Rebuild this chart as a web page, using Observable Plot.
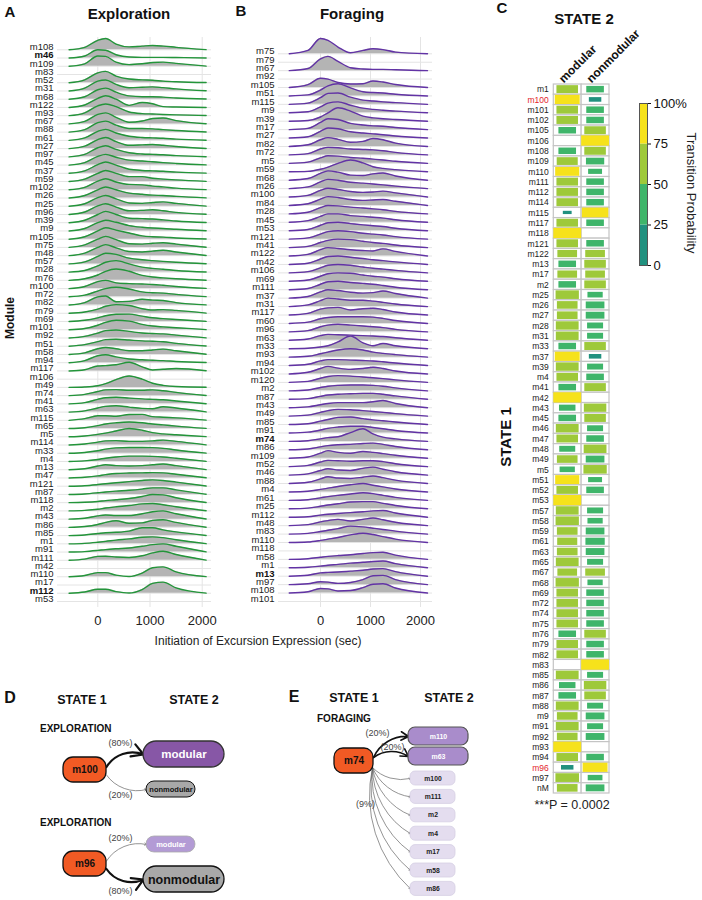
<!DOCTYPE html>
<html><head><meta charset="utf-8">
<script src="https://cdn.jsdelivr.net/npm/d3@7"></script>
<script src="https://cdn.jsdelivr.net/npm/@observablehq/plot@0.6"></script>
<style>
body{margin:0;background:#fff;font-family:"Liberation Sans",Arial,Helvetica,sans-serif;}
#root{position:relative;width:702px;height:900px;overflow:hidden;background:#fff;}
</style></head><body><div id="root"></div>
<script>
// ---------- DATA ----------
const ticksX = [0, 1000, 2000];
const xsA = [-550,-250,0,150,350,600,850,1050,1250,1500,2075];
const xsB = [-625,-250,0,150,350,600,850,1050,1250,1500,2140];

const rowsA = ["m108","m46","m109","m83","m52","m31","m68","m122","m93","m67","m88","m61","m27","m97","m45","m37","m59","m102","m26","m25","m96","m39","m9","m105","m75","m48","m57","m28","m76","m100","m72","m82","m79","m69","m101","m92","m51","m58","m94","m117","m106","m49","m74","m41","m63","m115","m65","m5","m114","m33","m4","m13","m47","m121","m87","m118","m2","m43","m86","m85","m1","m91","m111","m42","m110","m17","m112","m53"];
const boldA = ["m46","m112"];
const ridgeA = [
[0,0.3,1.15,1.38,0.7,0.35,0.45,0.52,0.45,0.3,0.02],
[0,0.25,1.0,0.95,0.4,0.12,0.08,0.08,0.08,0.06,0],
[0,0.3,1.25,1.2,0.5,0.2,0.3,0.45,0.5,0.35,0.02],
null,
[0,0.35,1.2,1.38,0.8,0.45,0.35,0.3,0.2,0.12,0.02],
[0,0.35,1.2,1.34,0.8,0.4,0.45,0.5,0.4,0.25,0.02],
[0,0.3,1.15,1.34,0.85,0.4,0.3,0.3,0.25,0.15,0.02],
[0,0.3,1.1,1.42,1.0,0.25,0.6,0.45,0.1,0.05,0],
[0,0.35,1.2,1.42,1.1,0.45,0.25,0.2,0.15,0.1,0.02],
[0,0.3,1.15,1.34,0.8,0.2,0.35,0.65,0.72,0.4,0.02],
[0,0.3,1.15,1.34,0.85,0.45,0.45,0.4,0.3,0.2,0.02],
[0,0.3,1.1,1.34,0.9,0.5,0.35,0.3,0.25,0.15,0.02],
[0,0.3,1.1,1.34,0.85,0.4,0.45,0.5,0.4,0.25,0.02],
[0,0.3,1.1,1.34,0.9,0.5,0.35,0.3,0.25,0.15,0.02],
[0,0.3,1.05,1.3,0.95,0.6,0.5,0.4,0.3,0.2,0.02],
[0,0.3,1.05,1.38,1.0,0.5,0.35,0.3,0.25,0.15,0.02],
[0,0.3,1.0,1.34,1.0,0.6,0.6,0.4,0.3,0.2,0.02],
[0,0.3,1.05,1.34,0.95,0.65,0.6,0.45,0.35,0.2,0.02],
[0,0.3,1.0,1.34,1.0,0.6,0.45,0.35,0.3,0.2,0.02],
[0,0.3,1.05,1.3,0.9,0.4,0.35,0.45,0.53,0.35,0.02],
[0,0.3,1.05,1.3,0.9,0.45,0.5,0.57,0.45,0.25,0.02],
[0,0.3,1.0,1.38,1.0,0.55,0.5,0.45,0.35,0.2,0.02],
[0,0.3,1.0,1.3,1.05,0.65,0.45,0.35,0.3,0.2,0.02],
[0,0.3,1.0,1.38,1.1,0.75,0.4,0.3,0.25,0.15,0.02],
[0,0.3,1.0,1.34,0.95,0.45,0.4,0.5,0.57,0.4,0.02],
[0,0.3,1.0,1.34,0.95,0.5,0.45,0.55,0.65,0.45,0.02],
[0,0.25,0.9,1.3,1.15,0.7,0.5,0.4,0.3,0.2,0.02],
[0,0.2,0.75,1.2,1.4,1.0,0.6,0.45,0.35,0.2,0.02],
[0,0.2,0.65,1.1,1.38,1.1,0.6,0.4,0.3,0.2,0.02],
[0,0.25,0.85,1.0,0.7,0.6,0.55,0.5,0.4,0.25,0.02],
[0,0.2,0.7,1.0,1.17,0.95,0.6,0.5,0.45,0.3,0.02],
[0,0.3,1.0,1.1,0.4,0.45,0.7,0.6,0.55,0.3,0.02],
[0,0.15,0.5,0.85,1.05,0.95,0.55,0.4,0.45,0.35,0.02],
[0,0.15,0.45,0.7,0.88,0.9,0.65,0.45,0.35,0.25,0.02],
[0,0.15,0.55,0.9,1.15,1.05,0.65,0.45,0.35,0.25,0.02],
[0,0.2,0.6,0.9,0.97,0.8,0.6,0.55,0.5,0.35,0.02],
[0,0.2,0.55,0.8,0.85,0.75,0.65,0.6,0.55,0.35,0.02],
[0,0.2,0.7,0.85,0.7,0.45,0.45,0.55,0.65,0.45,0.02],
[0,0.25,0.85,0.97,0.7,0.45,0.35,0.3,0.25,0.15,0.02],
[0,0.15,0.6,0.65,0.75,1.05,0.5,0.12,0.2,0.3,0.02],
null,
[0,0.05,0.2,0.45,0.95,1.38,1.0,0.5,0.25,0.1,0.01],
[0,0.15,0.5,0.7,0.73,0.65,0.65,0.7,0.6,0.4,0.02],
[0,0.15,0.55,0.75,0.8,0.7,0.6,0.55,0.5,0.35,0.02],
[0,0.15,0.5,0.7,0.77,0.6,0.45,0.4,0.65,0.5,0.02],
[0,0.2,0.55,0.55,0.5,0.7,0.72,0.45,0.38,0.3,0.02],
[0,0.1,0.35,0.55,0.7,0.8,0.7,0.55,0.45,0.3,0.02],
[0,0.1,0.3,0.45,0.7,1.0,0.8,0.5,0.35,0.25,0.02],
[0,0.12,0.35,0.5,0.53,0.45,0.45,0.5,0.6,0.45,0.02],
[0,0.1,0.3,0.5,0.65,0.7,0.7,0.68,0.6,0.4,0.02],
[0,0.08,0.25,0.4,0.55,0.65,0.65,0.62,0.55,0.4,0.02],
[0,0.12,0.45,0.6,0.5,0.45,0.5,0.6,0.7,0.5,0.02],
[0,0.08,0.25,0.4,0.55,0.6,0.62,0.65,0.62,0.45,0.02],
[0,0.06,0.2,0.3,0.42,0.55,0.7,0.77,0.7,0.5,0.02],
[0,0.06,0.2,0.3,0.4,0.5,0.65,0.8,0.8,0.55,0.02],
[0,0.05,0.15,0.25,0.35,0.5,0.75,1.0,0.95,0.6,0.02],
[0,0.06,0.2,0.35,0.5,0.65,0.85,0.9,0.75,0.5,0.02],
[0,0.1,0.4,0.5,0.45,0.45,0.65,0.9,1.0,0.65,0.02],
[0,0.1,0.35,0.6,0.8,0.5,0.55,0.85,0.92,0.6,0.02],
[0,0.08,0.25,0.35,0.4,0.55,0.95,0.95,0.7,0.45,0.02],
[0,0.06,0.2,0.3,0.45,0.6,0.8,0.85,0.75,0.5,0.02],
[0,0.06,0.2,0.3,0.4,0.5,0.7,0.9,1.0,0.7,0.02],
[0,0.15,0.48,0.5,0.4,0.35,0.55,0.9,1.1,0.7,0.02],
null,
[0,0.15,0.5,0.5,0.2,0.03,0.45,1.1,1.2,0.6,0.02],
null,
[0,0.15,0.48,0.48,0.2,0.03,0.45,1.2,1.35,0.65,0.02],
null
];

const rowsB = ["m75","m79","m67","m92","m105","m51","m115","m9","m39","m17","m27","m82","m72","m5","m59","m68","m26","m100","m84","m28","m45","m53","m121","m41","m122","m42","m106","m69","m111","m37","m31","m117","m60","m96","m63","m33","m93","m94","m102","m120","m2","m87","m43","m49","m85","m91","m74","m86","m109","m52","m46","m88","m4","m61","m25","m112","m48","m83","m110","m118","m58","m1","m13","m97","m108","m101"];
const boldB = ["m74","m13"];
const ridgeB = [
[0,0.4,1.82,1.6,0.8,0.12,0.4,0.6,0.5,0.2,0],
null,
[0,0.25,1.4,1.7,1.1,0.35,0.2,0.15,0.15,0.1,0],
null,
[0,0.35,1.1,1.0,0.6,0.42,0.45,0.78,0.65,0.35,0],
[0,0.12,0.7,1.2,1.45,0.95,0.5,0.4,0.35,0.2,0],
[0,0.15,0.8,1.3,1.35,0.85,0.5,0.4,0.3,0.2,0],
[0,0.12,0.7,1.15,1.3,0.9,0.55,0.4,0.3,0.2,0],
[0,0.08,0.5,1.0,1.6,1.2,0.6,0.4,0.3,0.2,0],
[0,0.15,0.85,1.3,1.2,0.75,0.55,0.45,0.4,0.25,0],
[0,0.15,0.8,1.2,1.1,0.75,0.6,0.5,0.4,0.25,0],
[0,0.2,0.8,1.05,0.85,0.5,0.6,0.95,0.8,0.4,0],
[0,0.15,0.7,0.9,0.85,0.7,0.65,0.6,0.5,0.3,0],
[0,0.15,0.65,0.9,0.85,0.7,0.6,0.5,0.4,0.25,0],
[0,0.05,0.3,0.55,1.0,1.4,1.05,0.6,0.4,0.25,0],
[0,0.2,0.8,1.1,0.95,0.6,0.55,0.75,0.85,0.5,0],
[0,0.2,0.8,1.1,1.0,0.75,0.65,0.55,0.45,0.3,0],
[0,0.2,0.8,1.05,0.9,0.65,0.55,0.6,0.7,0.5,0],
[0,0.2,0.75,1.05,0.95,0.7,0.6,0.65,0.7,0.5,0],
[0,0.2,0.75,1.0,0.95,0.8,0.7,0.6,0.5,0.3,0],
[0,0.2,0.7,1.0,1.0,0.8,0.7,0.6,0.5,0.3,0],
[0,0.15,0.65,0.95,1.0,0.85,0.7,0.6,0.5,0.3,0],
[0,0.15,0.6,0.9,1.0,0.9,0.7,0.6,0.5,0.3,0],
[0,0.15,0.6,0.85,1.0,0.95,0.75,0.6,0.5,0.3,0],
[0,0.2,0.75,1.0,0.9,0.75,0.65,0.6,0.85,0.55,0],
[0,0.15,0.65,0.95,1.0,0.85,0.7,0.55,0.45,0.3,0],
[0,0.15,0.6,0.9,1.0,0.9,0.7,0.55,0.45,0.3,0],
[0,0.15,0.6,0.9,1.0,0.95,0.75,0.6,0.5,0.3,0],
[0,0.15,0.65,0.95,1.0,0.85,0.75,0.65,0.5,0.3,0],
[0,0.2,0.75,1.0,0.9,0.7,0.6,0.65,0.85,0.55,0],
[0,0.2,0.7,1.0,0.9,0.75,0.75,0.65,0.5,0.3,0],
[0,0.2,0.7,0.85,0.9,0.6,0.75,0.8,0.65,0.35,0],
[0,0.15,0.55,0.7,0.8,0.8,0.8,0.75,0.6,0.35,0],
[0,0.15,0.6,0.8,0.9,0.8,0.7,0.6,0.5,0.3,0],
[0,0.15,0.55,0.7,0.65,0.6,0.55,0.5,0.45,0.3,0],
[0,0.05,0.2,0.35,0.8,1.5,0.7,0.35,0.62,0.35,0],
[0,0.1,0.4,0.6,0.85,1.0,0.85,0.6,0.45,0.3,0],
[0,0.15,0.55,0.7,0.7,0.65,0.6,0.55,0.45,0.3,0],
[0,0.2,0.65,0.9,0.7,0.55,0.65,0.8,0.65,0.35,0],
[0,0.12,0.5,0.7,0.8,0.75,0.65,0.55,0.45,0.3,0],
[0,0.1,0.4,0.55,0.65,0.7,0.7,0.65,0.55,0.35,0],
[0,0.08,0.35,0.5,0.6,0.65,0.7,0.7,0.6,0.4,0],
[0,0.1,0.35,0.5,0.6,0.6,0.6,0.7,0.85,0.5,0],
[0,0.12,0.45,0.65,0.8,0.75,0.65,0.55,0.45,0.3,0],
[0,0.1,0.4,0.6,0.85,0.9,0.7,0.55,0.45,0.3,0],
[0,0.1,0.35,0.55,0.7,0.8,0.8,0.65,0.5,0.3,0],
[0,0.08,0.3,0.45,0.55,1.05,1.5,0.9,0.5,0.3,0],
[0,0.1,0.35,0.5,0.6,0.65,0.75,0.8,0.65,0.4,0],
[0,0.15,0.6,0.9,0.7,0.6,0.8,0.7,0.55,0.35,0],
[0,0.15,0.55,0.75,0.7,0.65,0.7,0.7,0.6,0.35,0],
[0,0.15,0.55,0.75,0.6,0.55,0.8,0.95,0.7,0.4,0],
[0,0.15,0.55,0.8,0.65,0.6,0.75,0.9,0.7,0.4,0],
[0,0.08,0.3,0.45,0.65,0.85,1.0,0.8,0.6,0.35,0],
[0,0.08,0.3,0.45,0.6,0.75,0.9,0.8,0.6,0.35,0],
[0,0.08,0.3,0.45,0.6,0.8,0.85,0.85,0.65,0.4,0],
[0,0.06,0.25,0.35,0.45,0.55,0.65,0.75,0.8,0.5,0],
[0,0.12,0.45,0.6,0.75,0.55,0.75,0.9,0.7,0.4,0],
[0,0.08,0.3,0.45,0.65,0.95,0.85,0.7,0.55,0.35,0],
[0,0.06,0.25,0.4,0.6,0.9,1.1,0.95,0.7,0.4,0],
null,
[0,0.08,0.25,0.35,0.45,0.55,0.7,0.8,0.85,0.5,0],
[0,0.06,0.2,0.3,0.4,0.55,0.65,0.75,0.8,0.5,0],
[0,0.12,0.4,0.45,0.5,0.6,0.7,0.85,0.9,0.55,0],
[0,0.1,0.35,0.3,0.15,0.25,0.6,1.05,1.1,0.6,0],
[0,0.15,0.55,0.5,0.25,0.3,0.65,1.05,1.1,0.6,0],
null
];

// Panel C: transition probability (%) state 1 -> state 2
const cRows = ["m1","m100","m101","m102","m105","m106","m108","m109","m110","m111","m112","m114","m115","m117","m118","m121","m122","m13","m17","m2","m25","m26","m27","m28","m31","m33","m37","m39","m4","m41","m42","m43","m45","m46","m47","m48","m49","m5","m51","m52","m53","m57","m58","m59","m61","m63","m65","m67","m68","m69","m72","m74","m75","m76","m79","m82","m83","m85","m86","m87","m88","m9","m91","m92","m93","m94","m96","m97","nM"];
const cModular    = [60,80,60,60,40,0,40,57,75,60,60,60,10,60,100,60,50,40,50,40,70,55,55,67,67,40,80,67,60,40,100,35,40,67,60,33,55,30,75,60,100,67,70,55,52,55,67,50,70,60,60,60,60,40,60,60,0,67,35,40,67,55,67,55,100,60,20,72,55];
const cNonmodular = [40,20,40,40,60,100,60,43,25,40,40,40,90,40,0,40,50,60,50,60,30,45,45,33,33,60,20,33,40,60,0,65,60,33,40,67,45,70,25,40,0,33,30,45,48,45,33,50,30,40,40,40,40,60,40,40,100,33,65,60,33,45,33,45,0,40,80,28,45];
const cColumns = ["modular","nonmodular"];
const cHighlight = ["m100","m96"];
const legendBreaks = [0,25,50,75,100];
const binColors = ["#21917f","#3fb56a","#9ec93a","#f6e21b"];

// Panel D
const dSource = ["m100","m96"];
const dContext = ["EXPLORATION","EXPLORATION"];
const dTargets = ["modular","nonmodular"];
const dPctModular = [80,20];
const dPctNonmodular = [20,80];

// Panel E
const eSource = "m74";
const eContext = "FORAGING";
const eTargets = ["m110","m63","m100","m111","m2","m4","m17","m58","m86"];
const ePct = [20,20,9,9,9,9,9,9,9];

// ---------- RENDER ----------
const FONT = '"Liberation Sans", Arial, Helvetica, sans-serif';
const root = document.getElementById("root");
function put(svg, left, top){ svg.style.position="absolute"; svg.style.left=left+"px"; svg.style.top=top+"px"; root.appendChild(svg); }
function txt(s, x, y, o={}){
  const {size=12, weight="normal", anchor="middle", rotate=0, color="#111", vertical=false} = o;
  const d = document.createElement("div");
  d.textContent = s;
  d.style.cssText = `position:absolute;left:${x}px;top:${y}px;font-size:${size}px;font-weight:${weight};color:${color};white-space:nowrap;line-height:1;font-family:${FONT};`;
  if (vertical) d.style.writingMode = "vertical-rl";
  const tx = anchor==="middle" ? "-50%" : anchor==="end" ? "-100%" : "0";
  d.style.transform = `translate(${tx},-50%)` + (rotate ? ` rotate(${rotate}deg)` : "");
  root.appendChild(d);
}

function ridgePlot(o){
  const {rows, ridges, xs, bold, stroke, xDomain, rowTop, rowStep, width, height, marginLeft, marginRight} = o;
  const top = 37, bottom = 607;
  const marks = [
    Plot.ruleY(rows, {y: (d,i)=>i, stroke: "#e4e4e4", strokeWidth: 1}),
    Plot.ruleX(ticksX, {x: d=>d, stroke: "#e4e4e4", strokeWidth: 1})
  ];
  rows.forEach((r,i)=>{
    const h = ridges[i];
    if (!h) return;
    const pts = xs.map((x,j)=>({x, base: i, top: i - h[j]}));
    marks.push(Plot.area(pts, {x1: "x", y1: "base", y2: "top", fill: "#b4b4b4", curve: "monotone-x"}));
    marks.push(Plot.line(pts, {x: "x", y: "top", stroke, strokeWidth: 1.4, curve: "monotone-x"}));
  });
  marks.push(Plot.text(rows, {y: (d,i)=>i, text: d=>d, frameAnchor: "left", textAnchor: "end", dx: -4, dy: -2.7, fontSize: 9.5, fill: "#222", filter: d=>!bold.includes(d)}));
  marks.push(Plot.text(rows, {y: (d,i)=>i, text: d=>d, frameAnchor: "left", textAnchor: "end", dx: -4, dy: -2.7, fontSize: 9.5, fontWeight: "bold", fill: "#111", filter: d=>bold.includes(d)}));
  marks.push(Plot.axisX(ticksX, {tickSize: 0, tickPadding: 8, fontSize: 13, label: null, tickFormat: d=>String(d)}));
  return Plot.plot({
    width, height, marginLeft, marginRight, marginTop: top, marginBottom: height - bottom,
    x: {domain: xDomain, label: null},
    y: {domain: [(top-rowTop)/rowStep, (bottom-rowTop)/rowStep], range: [top, bottom], axis: null},
    style: {fontFamily: FONT, background: "transparent", overflow: "visible", color: "#222"},
    marks
  });
}

put(ridgePlot({rows: rowsA, ridges: ridgeA, xs: xsA, bold: boldA, stroke: "#23953a",
  xDomain: [-772, 2178], rowTop: 49.3, rowStep: 8.234, width: 216, height: 650, marginLeft: 57, marginRight: 5}), 0, 0);
put(ridgePlot({rows: rowsB, ridges: ridgeB, xs: xsB, bold: boldB, stroke: "#6233a5",
  xDomain: [-840, 2240], rowTop: 53.3, rowStep: 8.426, width: 216, height: 650, marginLeft: 56, marginRight: 6}), 222, 0);

// Panel C
const cCells = cRows.flatMap((r,i)=>[{r, i, col: 0, p: cModular[i]}, {r, i, col: 1, p: cNonmodular[i]}]);
const half = d => Math.sqrt(d.p/100)/2;
const colorScale = {type: "threshold", domain: legendBreaks.slice(1,-1), range: binColors};
put(Plot.plot({
  width: 212, height: 820, marginLeft: 63.3, marginRight: 93, marginTop: 84, marginBottom: 27,
  x: {domain: [0,2], axis: null},
  y: {domain: [0, cRows.length], range: [84, 793], axis: null},
  color: colorScale,
  style: {fontFamily: FONT, background: "transparent", overflow: "visible"},
  marks: [
    Plot.rect(cCells, {x1: d=>d.col, x2: d=>d.col+1, y1: d=>d.i, y2: d=>d.i+1, fill: "white", stroke: "#c4c4c4", strokeWidth: 1.2}),
    Plot.rect(cCells.filter(d=>d.p>0), {x1: d=>d.col+0.5-half(d), x2: d=>d.col+0.5+half(d), y1: d=>d.i+0.5-half(d), y2: d=>d.i+0.5+half(d), fill: "p"}),
    Plot.text(cRows, {y: (d,i)=>i+0.5, text: d=>d, frameAnchor: "left", textAnchor: "end", dx: -5, fontSize: 8.5, fill: "#222", filter: d=>!cHighlight.includes(d)}),
    Plot.text(cRows, {y: (d,i)=>i+0.5, text: d=>d, frameAnchor: "left", textAnchor: "end", dx: -5, fontSize: 8.5, fill: "#e3262b", filter: d=>cHighlight.includes(d)}),
    Plot.text(cColumns, {x: (d,i)=>i+0.5, text: d=>d, frameAnchor: "top", rotate: -45, textAnchor: "start", dx: -10, dy: -7, fontSize: 12, fontWeight: "bold", fill: "#111"})
  ]
}), 490, 0);

// Legend
put(Plot.plot({
  width: 82, height: 200, marginLeft: 19, marginRight: 55, marginTop: 23, marginBottom: 15,
  x: {domain: [0,1], axis: null},
  y: {domain: [0,100], axis: null},
  color: colorScale,
  style: {fontFamily: FONT, background: "transparent", overflow: "visible", color: "#111"},
  marks: [
    Plot.rect(legendBreaks.slice(0,-1), {x1: () => 0, x2: () => 1, y1: d=>d, y2: (d,i)=>legendBreaks[i+1], fill: d=>d}),
    Plot.frame({stroke: "#555", strokeWidth: 1}),
    Plot.axisY(legendBreaks, {anchor: "right", tickSize: 3, tickPadding: 3, fontSize: 13, label: null, tickFormat: d => d===100 ? "100%" : String(d)})
  ]
}), 620, 80);

// Panel D diagram
(function(){
  const srcNodes = [], tgtNodes = [], links = [];
  dSource.forEach((s,g)=>{
    const cy = 129.5 + g*94;
    srcNodes.push({name: s, x1: 63, x2: 106, y1: cy-12.5, y2: cy+12.5, cx: 84.5, cy});
    const pcts = [dPctModular[g], dPctNonmodular[g]];
    dTargets.forEach((t,k)=>{
      const p = pcts[k], big = p >= 50, dir = k===0 ? -1 : 1;
      const ty = cy + dir*(big ? 15.5 : 19.5);
      const x1 = big ? 143 : 146, x2 = big ? 224 : 195, hh = big ? 13 : 8;
      tgtNodes.push({name: t, big, x1, x2, y1: ty-hh, y2: ty+hh, cx: (x1+x2)/2, cy: ty});
      links.push({x1: 106, y1: cy + (dir<0 ? -3 : 5), x2: x1, y2: ty, big, up: dir<0, lx: 120, ly: ty + dir*(big ? 11.5 : 6), label: `(${p}%)`});
    });
  });
  const sel = (arr, f) => arr.filter(f);
  put(Plot.plot({
    width: 250, height: 260, margin: 0,
    x: {domain: [0,250], range: [0,250], axis: null},
    y: {domain: [0,260], range: [0,260], axis: null},
    style: {fontFamily: FONT, background: "transparent", overflow: "visible"},
    marks: [
      Plot.arrow(sel(links, d=>d.big && d.up), {x1:"x1", y1:"y1", x2:"x2", y2:"y2", bend: 40, stroke: "#111", strokeWidth: 2.2, headLength: 9}),
      Plot.arrow(sel(links, d=>d.big && !d.up), {x1:"x1", y1:"y1", x2:"x2", y2:"y2", bend: -40, stroke: "#111", strokeWidth: 2.2, headLength: 9}),
      Plot.arrow(sel(links, d=>!d.big && d.up), {x1:"x1", y1:"y1", x2:"x2", y2:"y2", bend: 35, stroke: "#777", strokeWidth: 0.8, headLength: 4}),
      Plot.arrow(sel(links, d=>!d.big && !d.up), {x1:"x1", y1:"y1", x2:"x2", y2:"y2", bend: -35, stroke: "#777", strokeWidth: 0.8, headLength: 4}),
      Plot.rect(srcNodes, {x1:"x1", x2:"x2", y1:"y1", y2:"y2", fill: "#f15a24", stroke: "#111", strokeWidth: 1.3, rx: 10}),
      Plot.rect(sel(tgtNodes, d=>d.big && d.name==="modular"), {x1:"x1", x2:"x2", y1:"y1", y2:"y2", fill: "#8757a6", stroke: "#333", strokeWidth: 1.3, rx: 13}),
      Plot.rect(sel(tgtNodes, d=>d.big && d.name==="nonmodular"), {x1:"x1", x2:"x2", y1:"y1", y2:"y2", fill: "#a8a8a8", stroke: "#111", strokeWidth: 1.3, rx: 13}),
      Plot.rect(sel(tgtNodes, d=>!d.big && d.name==="modular"), {x1:"x1", x2:"x2", y1:"y1", y2:"y2", fill: "#b39bd5", stroke: "#aaa", strokeWidth: 0.8, rx: 8}),
      Plot.rect(sel(tgtNodes, d=>!d.big && d.name==="nonmodular"), {x1:"x1", x2:"x2", y1:"y1", y2:"y2", fill: "#a8a8a8", stroke: "#111", strokeWidth: 1, rx: 8}),
      Plot.text(srcNodes, {x:"cx", y:"cy", text:"name", fill:"#111", fontWeight:"bold", fontSize: 10}),
      Plot.text(sel(tgtNodes, d=>d.big && d.name==="modular"), {x:"cx", y:"cy", text:"name", fill:"white", fontWeight:"bold", fontSize: 11.5}),
      Plot.text(sel(tgtNodes, d=>d.big && d.name==="nonmodular"), {x:"cx", y:"cy", text:"name", fill:"#111", fontWeight:"bold", fontSize: 12.5}),
      Plot.text(sel(tgtNodes, d=>!d.big && d.name==="modular"), {x:"cx", y:"cy", text:"name", fill:"white", fontWeight:"bold", fontSize: 7.5}),
      Plot.text(sel(tgtNodes, d=>!d.big && d.name==="nonmodular"), {x:"cx", y:"cy", text:"name", fill:"#111", fontWeight:"bold", fontSize: 7.5}),
      Plot.text(links, {x:"lx", y:"ly", text:"label", fill:"#444", fontSize: 9})
    ]
  }), 0, 640);
})();

// Panel E diagram
(function(){
  const cy = 120.5;
  const src = [{name: eSource, x1: 84, x2: 123, y1: cy-12.5, y2: cy+12.5, cx: 103.5, cy}];
  const tgt = [], links = [];
  eTargets.forEach((t,k)=>{
    const p = ePct[k], big = p >= 15;
    const ty = big ? 96 + k*20 : 138 + (k-2)*18.4;
    const x1 = big ? 158 : 160, x2 = big ? 218 : 205, hh = big ? 9 : 7;
    tgt.push({name: t, big, x1, x2, y1: ty-hh, y2: ty+hh, cx: (x1+x2)/2, cy: ty});
    const link = {x1: big ? 123 : 122, y1: big ? 117 : 127, x2: x1, y2: ty, big, label: null};
    if (big) { link.label = `(${p}%)`; link.lx = k===0 ? 127 : 142; link.ly = k===0 ? ty-3 : ty-9; }
    else if (k===3) { link.label = `(${p}%)`; link.lx = 115; link.ly = ty+7.6; }
    links.push(link);
  });
  put(Plot.plot({
    width: 230, height: 260, margin: 0,
    x: {domain: [0,230], range: [0,230], axis: null},
    y: {domain: [0,260], range: [0,260], axis: null},
    style: {fontFamily: FONT, background: "transparent", overflow: "visible"},
    marks: [
      Plot.arrow(links.filter(d=>d.big), {x1:"x1", y1:"y1", x2:"x2", y2:"y2", bend: 35, stroke: "#111", strokeWidth: 1.6, headLength: 8}),
      Plot.arrow(links.filter(d=>!d.big), {x1:"x1", y1:"y1", x2:"x2", y2:"y2", bend: -30, stroke: "#666", strokeWidth: 0.7, headLength: 3.5}),
      Plot.rect(src, {x1:"x1", x2:"x2", y1:"y1", y2:"y2", fill: "#f15a24", stroke: "#111", strokeWidth: 1.3, rx: 9}),
      Plot.rect(tgt.filter(d=>d.big), {x1:"x1", x2:"x2", y1:"y1", y2:"y2", fill: "#a98ccb", stroke: "#555", strokeWidth: 1.2, rx: 7}),
      Plot.rect(tgt.filter(d=>!d.big), {x1:"x1", x2:"x2", y1:"y1", y2:"y2", fill: "#e4ddef", stroke: "#d6cfe3", strokeWidth: 0.8, rx: 5}),
      Plot.text(src, {x:"cx", y:"cy", text:"name", fill:"#111", fontWeight:"bold", fontSize: 10}),
      Plot.text(tgt.filter(d=>d.big), {x:"cx", y:"cy", text:"name", fill:"white", fontWeight:"bold", fontSize: 7}),
      Plot.text(tgt.filter(d=>!d.big), {x:"cx", y:"cy", text:"name", fill:"#222", fontWeight:"bold", fontSize: 6.8}),
      Plot.text(links.filter(d=>d.label), {x:"lx", y:"ly", text:"label", fill:"#444", fontSize: 9})
    ]
  }), 250, 640);
})();

// ---------- TEXT ----------
txt("A", 10, 11, {size: 15, weight: "bold"});
txt("Exploration", 129, 13, {size: 15, weight: "bold"});
txt("B", 241, 10, {size: 15, weight: "bold"});
txt("Foraging", 352, 13, {size: 15, weight: "bold"});
txt("Module", 10, 318, {size: 12, weight: "bold", rotate: -90});
txt("Initiation of Excursion Expression (sec)", 258, 641, {size: 12, color: "#222"});
txt("C", 502, 7, {size: 15, weight: "bold"});
txt("STATE 2", 584, 18, {size: 15, weight: "bold"});
txt("STATE 1", 505, 437, {size: 15, weight: "bold", rotate: -90});
txt("Transition Probability", 691, 193, {size: 13, vertical: true, color: "#222"});
txt("***P = 0.0002", 572, 805, {size: 12.5, color: "#222"});
txt("D", 10, 698, {size: 16, weight: "bold"});
txt("STATE 1", 82, 700, {size: 12.5, weight: "bold"});
txt("STATE 2", 194, 700, {size: 12.5, weight: "bold"});
txt(dContext[0], 40, 729, {size: 10, weight: "bold", anchor: "start"});
txt(dContext[1], 40, 823, {size: 10, weight: "bold", anchor: "start"});
txt("E", 294, 697, {size: 16, weight: "bold"});
txt("STATE 1", 354, 698, {size: 12.5, weight: "bold"});
txt("STATE 2", 449, 698, {size: 12.5, weight: "bold"});
txt(eContext, 317, 719, {size: 10, weight: "bold", anchor: "start"});
</script></body></html>
